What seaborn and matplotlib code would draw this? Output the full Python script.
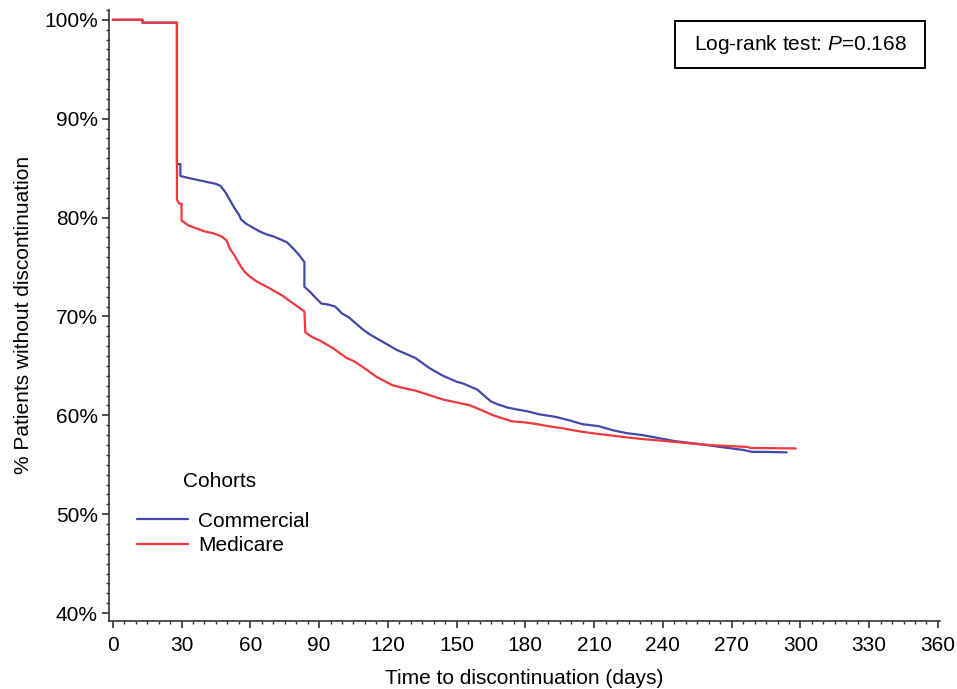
import matplotlib
matplotlib.use('Agg')
import matplotlib.pyplot as plt
from matplotlib.patches import Rectangle
from matplotlib.ticker import MultipleLocator, PercentFormatter
import numpy as np
import pandas as pd
import seaborn as sns

# Kaplan-Meier style curves
# (repeated day = vertical drop)
commercial_days = [0, 13, 13, 28, 28, 29.5, 29.5, 33, 37, 41,
                   45, 47, 49, 51, 53, 55, 56, 58, 61, 64,
                   67, 70, 73, 76, 79, 81, 83.6, 83.6, 86, 88,
                   91, 94, 97, 100, 103, 106, 109, 112, 115, 118,
                   121, 124, 128, 132, 135, 138, 141, 144, 147, 150,
                   153, 156, 159, 162, 165, 168, 172, 176, 181, 186,
                   193, 199, 205, 212, 218, 224, 231, 238, 245, 252,
                   259, 265, 270, 275, 279, 285, 294]
commercial_pct = [100, 100, 99.7, 99.7, 85.4, 85.4, 84.2, 84.0, 83.8, 83.6,
                  83.4, 83.2, 82.6, 81.8, 81.0, 80.3, 79.8, 79.4, 79.0, 78.6,
                  78.3, 78.1, 77.8, 77.5, 76.8, 76.3, 75.5, 73.0, 72.5, 72.0,
                  71.3, 71.2, 71.0, 70.3, 69.9, 69.3, 68.7, 68.2, 67.8, 67.4,
                  67.0, 66.6, 66.2, 65.8, 65.3, 64.8, 64.4, 64.0, 63.7, 63.4,
                  63.2, 62.9, 62.6, 62.0, 61.4, 61.1, 60.8, 60.6, 60.4, 60.1,
                  59.85, 59.5, 59.1, 58.9, 58.5, 58.2, 58.0, 57.7, 57.4, 57.2,
                  57.0, 56.8, 56.65, 56.5, 56.3, 56.3, 56.25]

medicare_days = [0, 13, 13, 28, 28, 29, 30, 30, 33, 36.5,
                 40, 44, 47.4, 49.6, 51, 53, 55, 56, 58, 60,
                 63, 65.5, 68, 71, 74, 77, 80, 83.6, 84, 87,
                 90, 93, 96, 99, 102, 105, 109, 112, 115, 119,
                 122, 126, 132, 136, 140, 144, 148, 152, 156, 159,
                 162, 166, 170, 174, 179, 184, 190, 196, 203, 209,
                 216, 223, 231, 241, 250, 260, 268, 277, 278, 298]
medicare_pct = [100, 100, 99.7, 99.7, 81.8, 81.4, 81.4, 79.7, 79.2, 78.9,
                78.6, 78.4, 78.1, 77.7, 76.9, 76.2, 75.4, 75.0, 74.4, 74.0,
                73.5, 73.2, 72.9, 72.5, 72.1, 71.6, 71.1, 70.5, 68.4, 67.9,
                67.6, 67.2, 66.8, 66.3, 65.8, 65.5, 64.9, 64.4, 63.9, 63.4,
                63.05, 62.8, 62.5, 62.2, 61.9, 61.6, 61.4, 61.2, 61.0, 60.7,
                60.4, 60.0, 59.7, 59.4, 59.3, 59.15, 58.9, 58.7, 58.4, 58.2,
                58.0, 57.8, 57.6, 57.4, 57.2, 57.0, 56.9, 56.8, 56.7, 56.65]

cohorts = ['Commercial', 'Medicare']
colors = {'Commercial': '#4048a8', 'Medicare': '#f0383c'}
pvalue = 0.168

df = pd.concat([
    pd.DataFrame({'day': commercial_days, 'pct': commercial_pct, 'cohort': 'Commercial'}),
    pd.DataFrame({'day': medicare_days, 'pct': medicare_pct, 'cohort': 'Medicare'}),
], ignore_index=True)

sns.set_style('ticks')
plt.rcParams['font.family'] = ['Liberation Sans', 'DejaVu Sans']
plt.rcParams['text.color'] = 'black'
plt.rcParams['axes.labelcolor'] = 'black'
plt.rcParams['xtick.color'] = 'black'
plt.rcParams['ytick.color'] = 'black'
plt.rcParams['mathtext.fontset'] = 'custom'
plt.rcParams['mathtext.rm'] = 'Liberation Sans'
plt.rcParams['mathtext.it'] = 'Liberation Sans:italic'

fig = plt.figure(figsize=(9.57, 6.89), dpi=100)
ax = fig.add_axes([0.114, 0.0987, 0.8685, 0.887])

sns.lineplot(data=df, x='day', y='pct', hue='cohort', hue_order=cohorts,
             palette=colors, estimator=None, sort=False,
             linewidth=1.6, ax=ax, legend=True)

ax.set_xlim(-1.6, 361)
ax.set_ylim(39.2, 101)
ax.xaxis.set_major_locator(MultipleLocator(30))
ax.xaxis.set_minor_locator(MultipleLocator(5))
ax.yaxis.set_major_locator(MultipleLocator(10))
ax.yaxis.set_minor_locator(MultipleLocator(1))
ax.yaxis.set_major_formatter(PercentFormatter(decimals=0))

for s in ['left', 'bottom']:
    ax.spines[s].set_linewidth(1.2)
    ax.spines[s].set_color('#333333')
sns.despine(ax=ax)
ax.tick_params(which='major', length=5, width=1.2, color='#333333', labelsize=15)
ax.tick_params(which='minor', length=2.5, width=1.0, color='#333333')
ax.tick_params(axis='x', which='major', pad=6)
ax.tick_params(axis='y', which='major', pad=3)

ax.set_xlabel('Time to discontinuation (days)', fontsize=15, labelpad=10)
ax.set_ylabel('% Patients without discontinuation', fontsize=15, labelpad=8)

ax.legend(loc='upper left', bbox_to_anchor=(0.034, 0.179), frameon=False,
          fontsize=15, handlelength=2.45, handletextpad=0.48, borderpad=0,
          labelspacing=0.28, borderaxespad=0)
ax.text(0.089, 0.2275, 'Cohorts', transform=ax.transAxes, fontsize=15,
        ha='left', va='center')

# log-rank box
ax.add_patch(Rectangle((0.681, 0.905), 0.301, 0.077, transform=ax.transAxes,
                       facecolor='white', edgecolor='black', linewidth=1.4,
                       zorder=5))
ax.text(0.832, 0.944, f'Log-rank test: $\\it{{P}}$={pvalue}', transform=ax.transAxes,
        fontsize=15, ha='center', va='center', zorder=6)

fig.savefig('out.png', dpi=100)
